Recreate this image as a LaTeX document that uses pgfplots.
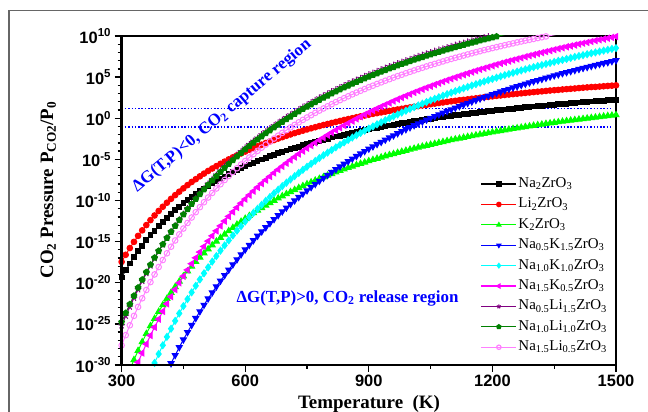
\documentclass[border=0pt]{standalone}
\usepackage{fontspec}
\setmainfont{Liberation Serif}
\newfontfamily\arialf{Liberation Sans}
\usepackage{pgfplots}
\usepackage{pgfplotstable}
\pgfplotsset{compat=1.18}
\usetikzlibrary{plotmarks}

\definecolor{kgreen}{HTML}{00FF00}
\definecolor{ncyan}{HTML}{00FFFF}
\definecolor{nmag}{HTML}{FF00FF}
\definecolor{npurple}{HTML}{800080}
\definecolor{dgreen}{HTML}{008000}
\definecolor{lpink}{HTML}{FF80FF}
\definecolor{annblue}{HTML}{0000FF}

% log10(P_CO2/P0), 10 K steps
\pgfplotstableread{
T    nazr   lizr   kzr    nak05  nak10  nak15  nali05 nali10 nali15
300  -19.35 -17.46 nan    nan    nan    nan    -25.21 -24.79 -27.61
310  -18.48 -16.60 nan    nan    nan    nan    -24.04 -23.68 -26.37
320  -17.66 -15.78 -30.58 nan    nan    -32.03 -22.93 -22.62 -25.17
330  -16.90 -15.03 -29.38 nan    nan    -30.83 -21.85 -21.59 -24.03
340  -16.17 -14.30 -28.26 nan    nan    -29.66 -20.82 -20.60 -22.94
350  -15.49 -13.63 -27.20 nan    nan    -28.54 -19.81 -19.63 -21.89
360  -14.85 -12.99 -26.20 nan    -32.09 -27.45 -18.85 -18.71 -20.88
370  -14.24 -12.39 -25.25 nan    -30.90 -26.41 -17.93 -17.82 -19.92
380  -13.67 -11.82 -24.36 nan    -29.75 -25.40 -17.04 -16.96 -18.99
390  -13.12 -11.27 -23.51 nan    -28.66 -24.42 -16.18 -16.13 -18.09
400  -12.60 -10.76 -22.70 -31.90 -27.60 -23.48 -15.36 -15.33 -17.24
410  -12.11 -10.27 -21.93 -30.83 -26.58 -22.56 -14.56 -14.55 -16.42
420  -11.64 -9.80  -21.20 -29.81 -25.59 -21.69 -13.80 -13.81 -15.62
430  -11.19 -9.35  -20.50 -28.81 -24.64 -20.83 -13.06 -13.09 -14.86
440  -10.76 -8.93  -19.84 -27.85 -23.73 -20.01 -12.33 -12.38 -14.12
450  -10.35 -8.52  -19.20 -26.92 -22.84 -19.21 -11.65 -11.71 -13.41
460  -9.96  -8.13  -18.59 -26.02 -21.99 -18.44 -10.98 -11.06 -12.73
470  -9.58  -7.75  -18.01 -25.15 -21.17 -17.69 -10.34 -10.43 -12.07
480  -9.23  -7.41  -17.45 -24.31 -20.37 -16.97 -9.72  -9.82  -11.42
490  -8.88  -7.06  -16.91 -23.49 -19.60 -16.27 -9.12  -9.23  -10.81
500  -8.55  -6.73  -16.40 -22.70 -18.85 -15.59 -8.53  -8.65  -10.21
510  -8.23  -6.41  -15.91 -21.93 -18.13 -14.94 -7.97  -8.10  -9.64
520  -7.93  -6.11  -15.43 -21.19 -17.43 -14.30 -7.43  -7.57  -9.08
530  -7.63  -5.82  -14.97 -20.47 -16.76 -13.69 -6.89  -7.04  -8.54
540  -7.35  -5.54  -14.53 -19.77 -16.10 -13.09 -6.38  -6.54  -8.02
550  -7.08  -5.27  -14.11 -19.09 -15.46 -12.50 -5.88  -6.04  -7.51
560  -6.81  -5.00  -13.70 -18.43 -14.85 -11.93 -5.40  -5.57  -7.02
570  -6.56  -4.75  -13.31 -17.79 -14.25 -11.38 -4.92  -5.10  -6.54
580  -6.32  -4.51  -12.92 -17.17 -13.67 -10.85 -4.47  -4.65  -6.08
590  -6.08  -4.28  -12.56 -16.56 -13.11 -10.33 -4.03  -4.22  -5.63
600  -5.85  -4.05  -12.20 -15.97 -12.56 -9.83  -3.60  -3.79  -5.20
610  -5.63  -3.83  -11.86 -15.41 -12.03 -9.34  -3.18  -3.38  -4.77
620  -5.41  -3.61  -11.52 -14.85 -11.51 -8.86  -2.77  -2.97  -4.36
630  -5.21  -3.41  -11.20 -14.30 -11.01 -8.39  -2.39  -2.59  -3.96
640  -5.01  -3.21  -10.89 -13.78 -10.52 -7.94  -1.99  -2.20  -3.57
650  -4.81  -3.01  -10.59 -13.27 -10.04 -7.51  -1.62  -1.83  -3.20
660  -4.62  -2.82  -10.29 -12.77 -9.58  -7.08  -1.26  -1.47  -2.83
670  -4.44  -2.65  -10.01 -12.28 -9.12  -6.65  -0.89  -1.11  -2.47
680  -4.26  -2.47  -9.73  -11.80 -8.69  -6.24  -0.56  -0.78  -2.12
690  -4.09  -2.30  -9.46  -11.34 -8.26  -5.85  -0.22  -0.44  -1.78
700  -3.92  -2.13  -9.20  -10.88 -7.84  -5.46  0.11   -0.11  -1.45
710  -3.76  -1.97  -8.95  -10.44 -7.44  -5.08  0.43   0.20   -1.12
720  -3.60  -1.81  -8.70  -10.01 -7.04  -4.71  0.74   0.51   -0.81
730  -3.45  -1.66  -8.46  -9.59  -6.65  -4.35  1.05   0.82   -0.50
740  -3.30  -1.51  -8.23  -9.18  -6.27  -3.99  1.35   1.12   -0.20
750  -3.15  -1.36  -8.00  -8.78  -5.90  -3.65  1.64   1.41   0.09
760  -3.01  -1.22  -7.78  -8.39  -5.54  -3.32  1.92   1.69   0.37
770  -2.87  -1.09  -7.56  -8.01  -5.19  -2.99  2.20   1.96   0.65
780  -2.73  -0.95  -7.35  -7.63  -4.84  -2.67  2.48   2.24   0.93
790  -2.60  -0.82  -7.15  -7.27  -4.50  -2.36  2.73   2.49   1.19
800  -2.48  -0.70  -6.95  -6.91  -4.18  -2.05  2.99   2.75   1.45
810  -2.35  -0.57  -6.76  -6.55  -3.86  -1.74  3.25   3.01   1.71
820  -2.23  -0.45  -6.57  -6.21  -3.54  -1.45  3.49   3.25   1.96
830  -2.11  -0.33  -6.38  -5.88  -3.23  -1.16  3.74   3.50   2.20
840  -1.99  -0.21  -6.20  -5.55  -2.94  -0.88  3.98   3.74   2.44
850  -1.88  -0.10  -6.02  -5.23  -2.64  -0.61  4.21   3.97   2.67
860  -1.77  0.01   -5.85  -4.92  -2.35  -0.34  4.43   4.19   2.90
870  -1.66  0.12   -5.68  -4.61  -2.07  -0.07  4.66   4.41   3.12
880  -1.55  0.23   -5.52  -4.31  -1.79  0.19   4.87   4.63   3.34
890  -1.45  0.33   -5.36  -4.01  -1.52  0.45   5.10   4.85   3.55
900  -1.35  0.43   -5.20  -3.72  -1.25  0.70   5.31   5.06   3.77
910  -1.25  0.53   -5.05  -3.44  -1.00  0.94   5.50   5.25   3.96
920  -1.15  0.62   -4.90  -3.15  -0.74  1.18   5.71   5.46   4.17
930  -1.06  0.71   -4.75  -2.89  -0.49  1.41   5.91   5.66   4.36
940  -0.97  0.80   -4.60  -2.62  -0.24  1.64   6.10   5.85   4.56
950  -0.88  0.89   -4.46  -2.35  0.00   1.86   6.29   6.04   4.75
960  -0.79  0.98   -4.33  -2.10  0.23   2.09   6.47   6.22   4.94
970  -0.70  1.07   -4.19  -1.84  0.46   2.31   6.66   6.41   5.12
980  -0.62  1.15   -4.06  -1.59  0.69   2.52   6.84   6.59   5.29
990  -0.53  1.24   -3.93  -1.35  0.91   2.73   7.01   6.76   5.47
1000 -0.45  1.32   -3.80  -1.11  1.13   2.93   7.18   6.93   5.64
1010 -0.37  1.40   -3.68  -0.87  1.35   3.14   7.36   7.11   5.81
1020 -0.29  1.48   -3.55  -0.64  1.56   3.33   7.52   7.27   5.98
1030 -0.21  1.56   -3.43  -0.42  1.77   3.53   7.68   7.43   6.14
1040 -0.14  1.63   -3.32  -0.19  1.97   3.72   7.84   7.59   6.30
1050 -0.06  1.71   -3.20  0.02   2.17   3.90   8.00   7.75   6.46
1060 0.01   1.78   -3.09  0.24   2.36   4.09   8.16   7.91   6.61
1070 0.08   1.85   -2.98  0.45   2.55   4.27   8.31   8.06   6.76
1080 0.15   1.92   -2.87  0.66   2.74   4.45   8.46   8.21   6.91
1090 0.22   1.99   -2.76  0.86   2.93   4.63   8.61   8.36   7.06
1100 0.29   2.06   -2.65  1.06   3.11   4.80   8.75   8.50   7.21
1110 0.35   2.12   -2.55  1.26   3.29   4.97   8.89   8.64   7.35
1120 0.42   2.19   -2.45  1.46   3.46   5.14   9.02   8.78   7.48
1130 0.48   2.24   -2.35  1.65   3.64   5.30   9.16   8.92   7.62
1140 0.54   2.30   -2.25  1.84   3.81   5.46   9.29   9.05   7.76
1150 0.61   2.37   -2.16  2.02   3.98   5.62   9.43   9.19   7.89
1160 0.67   2.43   -2.06  2.20   4.14   5.78   9.56   9.32   8.02
1170 0.73   2.49   -1.97  2.38   4.31   5.94   9.69   9.45   8.15
1180 0.79   2.55   -1.88  2.56   4.47   6.08   9.81   9.57   8.28
1190 0.84   2.60   -1.79  2.73   4.63   6.23   9.94   9.70   8.40
1200 0.90   2.66   -1.70  2.90   4.78   6.38   10.07  9.83   8.53
1210 0.96   2.72   -1.61  3.07   4.93   6.53   10.18  9.94   8.64
1220 1.01   2.77   -1.53  3.23   5.09   6.67   nan    10.06  8.76
1230 1.07   2.83   -1.44  3.40   5.24   6.81   nan    10.18  8.88
1240 1.12   2.88   -1.36  3.56   5.38   6.95   nan    10.29  8.99
1250 1.17   2.93   -1.28  3.72   5.52   7.08   nan    nan    9.10
1260 1.22   2.98   -1.20  3.87   5.67   7.21   nan    nan    9.22
1270 1.27   3.03   -1.12  4.03   5.81   7.34   nan    nan    9.33
1280 1.32   3.08   -1.04  4.18   5.94   7.48   nan    nan    9.44
1290 1.37   3.13   -0.97  4.33   6.08   7.61   nan    nan    9.54
1300 1.42   3.18   -0.89  4.48   6.21   7.73   nan    nan    9.64
1310 1.47   3.23   -0.82  4.62   6.35   7.86   nan    nan    9.75
1320 1.51   3.27   -0.75  4.76   6.47   7.98   nan    nan    9.85
1330 1.56   3.32   -0.67  4.90   6.60   8.10   nan    nan    9.95
1340 1.61   3.37   -0.60  5.05   6.72   8.22   nan    nan    10.05
1350 1.65   3.41   -0.53  5.19   6.85   8.34   nan    nan    10.15
1360 1.69   3.45   -0.46  5.32   6.98   8.46   nan    nan    10.24
1370 1.74   3.50   -0.40  5.46   7.09   8.57   nan    nan    nan
1380 1.78   3.54   -0.33  5.59   7.21   8.69   nan    nan    nan
1390 1.82   3.58   -0.26  5.71   7.33   8.79   nan    nan    nan
1400 1.86   3.62   -0.20  5.84   7.45   8.90   nan    nan    nan
1410 1.91   3.67   -0.14  5.97   7.57   9.02   nan    nan    nan
1420 1.95   3.71   -0.07  6.10   7.67   9.12   nan    nan    nan
1430 1.99   3.75   -0.01  6.21   7.78   9.22   nan    nan    nan
1440 2.03   3.79   0.05   6.34   7.90   9.33   nan    nan    nan
1450 2.06   3.81   0.11   6.45   8.00   9.44   nan    nan    nan
1460 2.10   3.85   0.17   6.58   8.11   9.54   nan    nan    nan
1470 2.14   3.89   0.23   6.70   8.22   9.63   nan    nan    nan
1480 2.18   3.93   0.29   6.80   8.32   9.73   nan    nan    nan
1490 2.21   3.96   0.34   6.92   8.43   9.83   nan    nan    nan
1500 2.25   4.00   0.40   7.04   8.53   9.93   nan    nan    nan
}\dat

\begin{document}
\begin{tikzpicture}
\useasboundingbox (0,0) rectangle (648bp,412bp);
\draw[black!60, line width=1.3bp] (9bp,-5bp) -- (9bp,401.3bp) -- (655bp,401.3bp);
\begin{axis}[
    name=ax,
    at={(121.6bp,47bp)}, anchor=south west,
    scale only axis, width=494.4bp, height=329bp,
    xmin=300, xmax=1500, ymin=-30, ymax=10,
    xtick={300,600,900,1200,1500},
    xticklabels={300,600,900,1200,1500},
    minor xtick={450,750,1050,1350},
    ytick={-30,-25,-20,-15,-10,-5,0,5,10},
    yticklabels={10\textsuperscript{-30},10\textsuperscript{-25},10\textsuperscript{-20},10\textsuperscript{-15},10\textsuperscript{-10},10\textsuperscript{-5},10\textsuperscript{0},10\textsuperscript{5},10\textsuperscript{10}},
    minor ytick={-30,-29,...,10},
    tick align=outside, tick pos=left,
    major tick length=7bp, minor tick length=4bp,
    every tick/.style={black, line width=1.3bp},
    axis line style={line width=1.3bp},
    ticklabel style={font=\arialf\fontsize{16.5}{18}\selectfont\bfseries},
    legend style={draw=none, fill=none, at={(0.72,0.584)}, anchor=north west,
        font=\fontsize{15}{16}\selectfont, row sep=2.4bp,
        nodes={inner sep=1.5bp, text height=11bp, text depth=4bp}},
    legend cell align=left,
    legend image code/.code={\draw[#1, mark repeat=2, mark phase=2, line width=1.2bp, mark size=2.2bp]
        plot coordinates {(0bp,0bp) (17.5bp,0bp) (35bp,0bp)};},
]
\addplot[black, line width=1bp, mark=square*, mark size=2.4bp, mark options={solid}]
    table[x=T, y=nazr] {\dat};
\addlegendentry{Na\textsubscript{2}ZrO\textsubscript{3}}
\addplot[red, line width=1bp, mark=*, mark size=2.8bp, mark options={solid}]
    table[x=T, y=lizr] {\dat};
\addlegendentry{Li\textsubscript{2}ZrO\textsubscript{3}}
\addplot[kgreen, line width=1bp, mark=triangle*, mark size=3.4bp, mark options={solid}]
    table[x=T, y=kzr] {\dat};
\addlegendentry{K\textsubscript{2}ZrO\textsubscript{3}}
\addplot[blue, line width=1bp, mark=triangle*, mark size=3.4bp, mark options={solid, rotate=180}]
    table[x=T, y=nak05] {\dat};
\addlegendentry{Na\textsubscript{0.5}K\textsubscript{1.5}ZrO\textsubscript{3}}
\addplot[ncyan, line width=1bp, mark=diamond*, mark size=3.4bp, mark options={solid}]
    table[x=T, y=nak10] {\dat};
\addlegendentry{Na\textsubscript{1.0}K\textsubscript{1.0}ZrO\textsubscript{3}}
\addplot[nmag, line width=1bp, mark=triangle*, mark size=3.4bp, mark options={solid, rotate=90}]
    table[x=T, y=nak15] {\dat};
\addlegendentry{Na\textsubscript{1.5}K\textsubscript{0.5}ZrO\textsubscript{3}}
\addplot[npurple, line width=1bp, mark=star, mark size=3.4bp, mark options={solid}]
    table[x=T, y=nali05] {\dat};
\addlegendentry{Na\textsubscript{0.5}Li\textsubscript{1.5}ZrO\textsubscript{3}}
\addplot[dgreen, line width=1bp, mark=pentagon*, mark size=3.0bp, mark options={solid}]
    table[x=T, y=nali10] {\dat};
\addlegendentry{Na\textsubscript{1.0}Li\textsubscript{1.0}ZrO\textsubscript{3}}
\addplot[lpink, line width=1bp, mark=o, mark size=2.8bp, mark options={solid}]
    table[x=T, y=nali15] {\dat};
\addlegendentry{Na\textsubscript{1.5}Li\textsubscript{0.5}ZrO\textsubscript{3}}
% equilibrium pressure window
\addplot[annblue, line width=1.5bp, dash pattern=on 1.5bp off 1.8bp, forget plot]
    coordinates {(300,1.19) (1488,1.19)};
\addplot[annblue, line width=1.5bp, dash pattern=on 1.5bp off 1.8bp, forget plot]
    coordinates {(300,-1.05) (1488,-1.05)};
\end{axis}
\draw[line width=3.5bp] (ax.south west) -- (ax.north west);
\draw[line width=2.5bp] (ax.south west) -- (ax.south east);
\node[rotate=90, anchor=base, font=\fontsize{19}{21}\selectfont\bfseries]
    at (53bp,222bp) {CO\textsubscript{2} Pressure P\textsubscript{CO2}/P\textsubscript{0}};
\node[anchor=base, font=\fontsize{19}{21}\selectfont\bfseries]
    at (369bp,4bp) {Temperature~~(K)};
\node[rotate=40, text=annblue, font=\fontsize{17}{19}\selectfont\bfseries]
    at (222bp,296bp) {ΔG(T,P)<0, CO\textsubscript{2} capture region};
\node[text=annblue, font=\fontsize{17}{19}\selectfont\bfseries]
    at (347.5bp,114bp) {ΔG(T,P)>0, CO\textsubscript{2} release region};
\end{tikzpicture}
\end{document}
